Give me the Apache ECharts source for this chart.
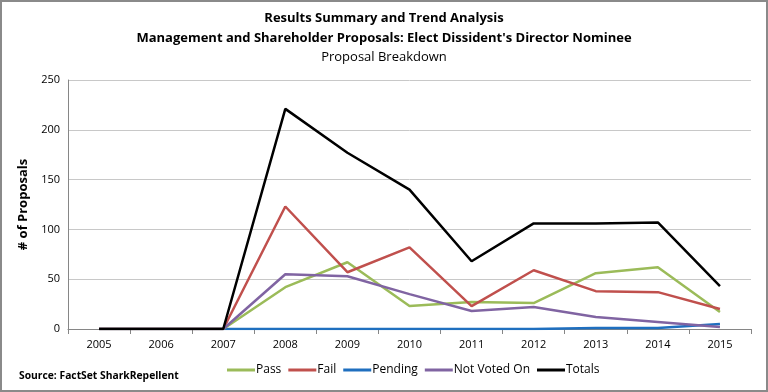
<!DOCTYPE html>
<html><head><meta charset="utf-8">
<script src="https://cdn.jsdelivr.net/npm/echarts@6/dist/echarts.min.js"></script>
<style>html,body{margin:0;padding:0;background:#fff}#c{width:768px;height:392px;box-sizing:border-box;border:2px solid #8a8a8a}</style>
</head><body><div id="c"></div>
<script>
const years = ['2005','2006','2007','2008','2009','2010','2011','2012','2013','2014','2015'];
const pass = [0,0,0,42,67,23,27,26,56,62,17];
const fail = [0,0,0,123,57,82,23,59,38,37,20];
const pending = [0,0,0,0,0,0,0,0,1,1,5];
const notVoted = [0,0,0,55,53,35,18,22,12,7,2];
const totals = [0,0,0,221,177,140,68,106,106,107,43];
const yTicks = [0,50,100,150,200,250];

const F = '"Open Sans",sans-serif';
const chart = echarts.init(document.getElementById('c'));
function s(name, data, color, z){
  return {name, type:'line', data, symbol:'none', z, lineStyle:{color, width:2.5}, itemStyle:{color}};
}
chart.setOption({
  animation:false,
  title:[
    {text:'Results Summary and Trend Analysis', left:'center', top:5, textStyle:{fontFamily:F, fontSize:13, fontWeight:'bold', color:'#000'}},
    {text:'Management and Shareholder Proposals: Elect Dissident\'s Director Nominee', left:'center', top:25, textStyle:{fontFamily:F, fontSize:13, fontWeight:'bold', color:'#000'}},
    {text:'Proposal Breakdown', left:'center', top:44, textStyle:{fontFamily:F, fontSize:13, fontWeight:'normal', color:'#000'}},
    {text:'Source: FactSet SharkRepellent', left:12, top:364, textStyle:{fontFamily:F, fontSize:10.3, fontWeight:'bold', color:'#000'}}
  ],
  legend:{top:357, left:220, itemWidth:28, itemHeight:3, itemGap:7, icon:'rect',
    textStyle:{fontFamily:F, fontSize:12, color:'#000', padding:[0,0,0,-4]},
    data:['Pass','Fail','Pending','Not Voted On','Totals']},
  grid:{left:66, right:15, top:78, bottom:61},
  xAxis:{type:'category', data:years, boundaryGap:true,
    axisLine:{lineStyle:{color:'#868686'}},
    axisTick:{show:true, alignWithLabel:false, length:5, lineStyle:{color:'#868686'}},
    axisLabel:{fontFamily:F, fontSize:11, color:'#000', margin:10}},
  yAxis:{type:'value', min:yTicks[0], max:yTicks[yTicks.length-1], interval:50,
    name:'# of Proposals', nameLocation:'middle', nameGap:36, nameRotate:90,
    nameTextStyle:{fontFamily:F, fontSize:13, fontWeight:'bold', color:'#000'},
    axisLine:{show:true, lineStyle:{color:'#868686'}},
    axisTick:{show:false},
    axisLabel:{fontFamily:F, fontSize:11, color:'#000', margin:8},
    splitLine:{lineStyle:{color:'#c8c8c8'}}},
  series:[
    s('Pass', pass, '#9bbb59', 3),
    s('Fail', fail, '#c0504d', 3),
    s('Pending', pending, '#1f6fbf', 2),
    s('Not Voted On', notVoted, '#8064a2', 3),
    s('Totals', totals, '#000000', 4)
  ]
});
</script></body></html>
